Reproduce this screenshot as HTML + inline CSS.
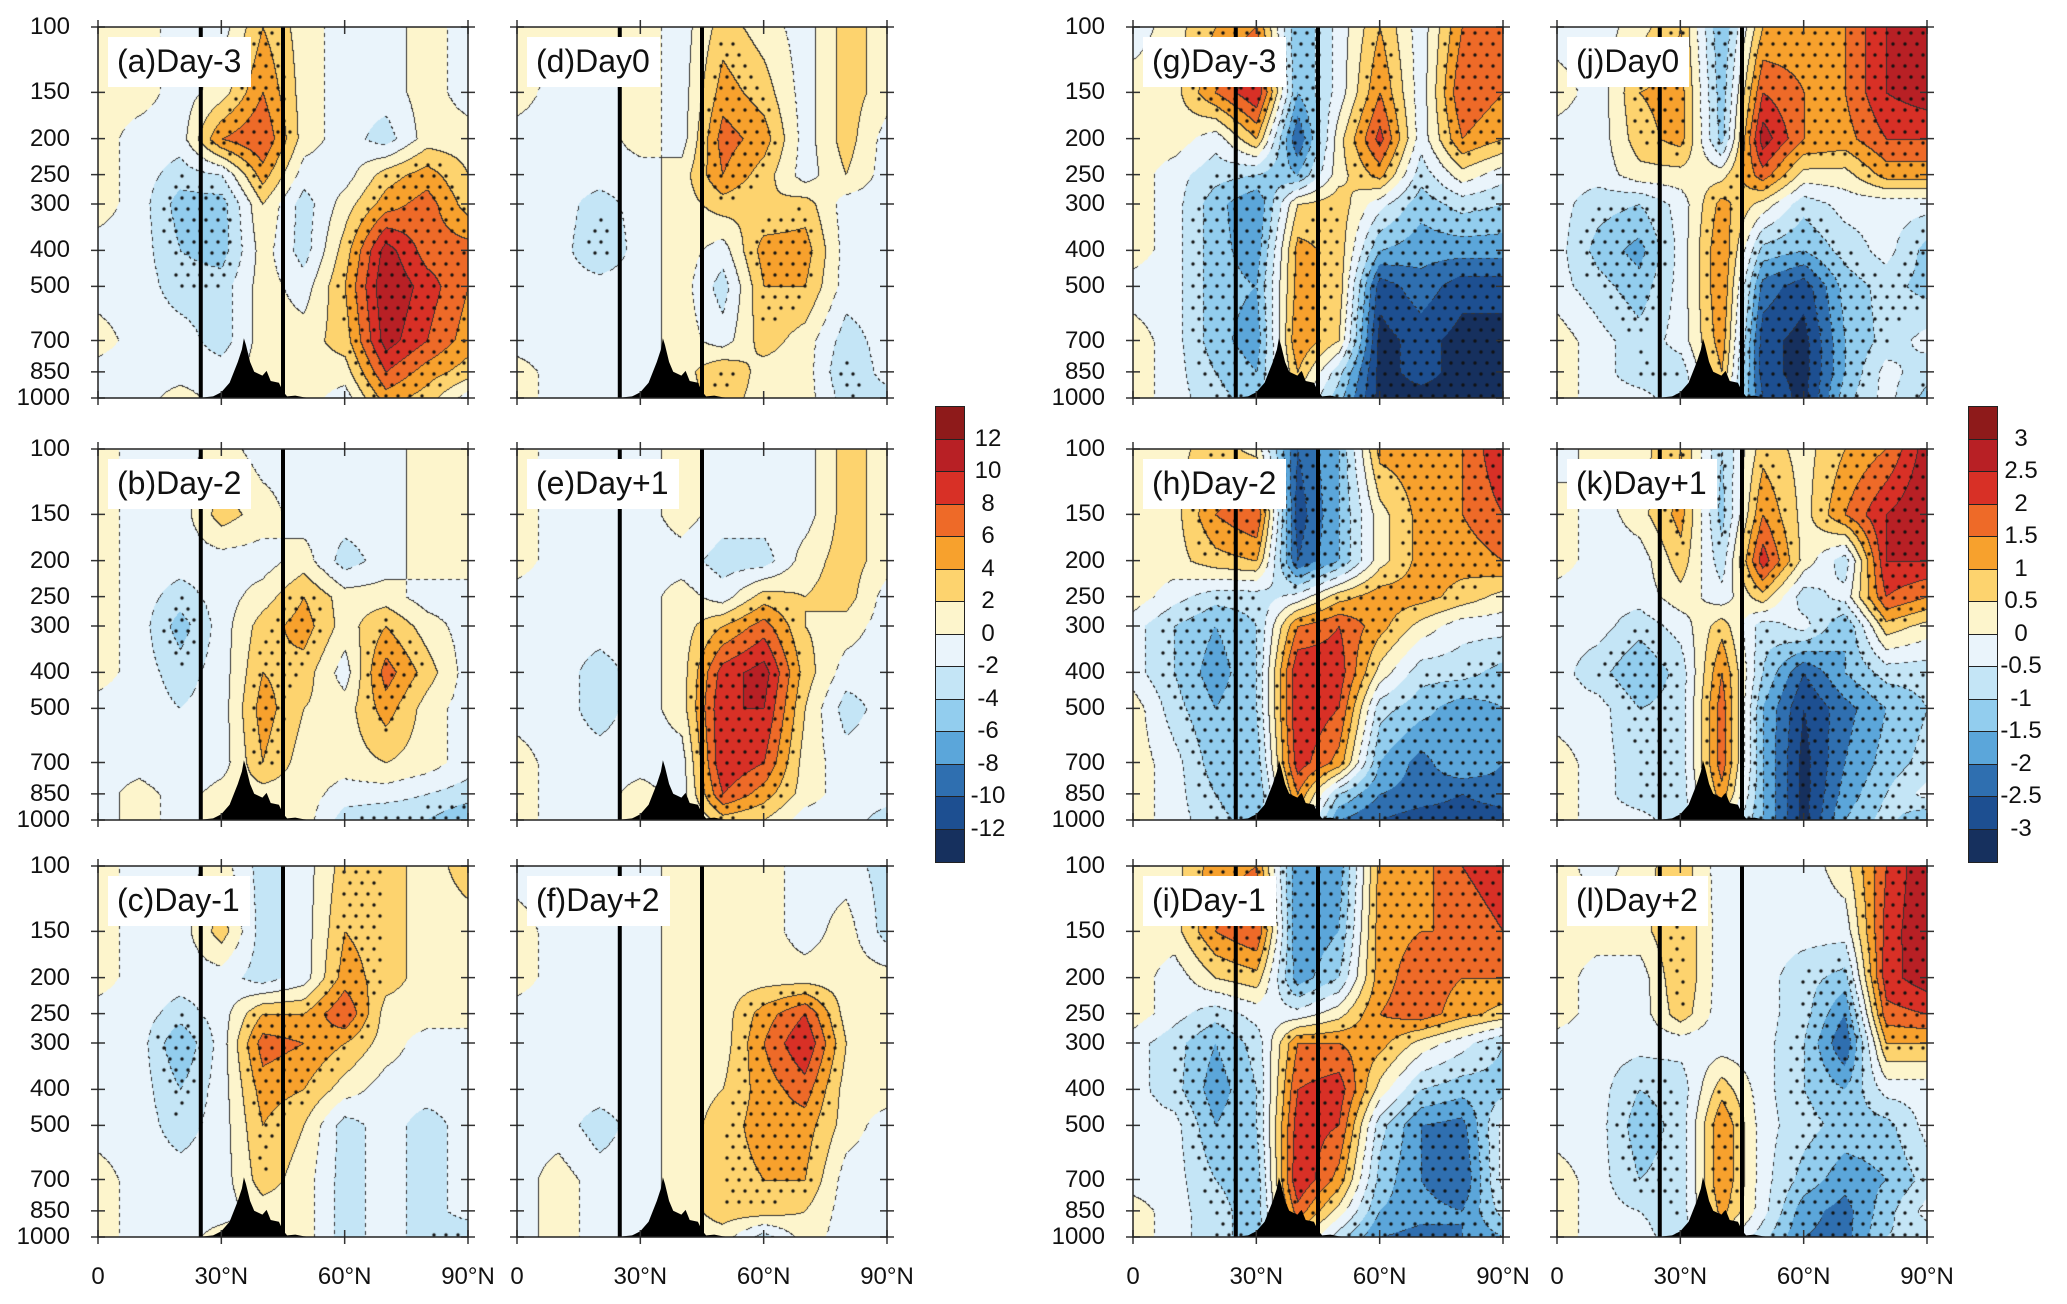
<!DOCTYPE html>
<html><head><meta charset="utf-8">
<style>
body{margin:0;background:#fff;width:2067px;height:1304px;position:relative;overflow:hidden;font-family:"Liberation Sans",Arial,sans-serif;}
.panel{position:absolute;width:370px;height:371px;}
.panel canvas,.panel svg{position:absolute;left:0;top:0;}
.plab{position:absolute;left:10px;top:10px;background:#fff;padding:2px 10px 4px 9px;font-size:32px;line-height:44px;color:#111;}
.yl{position:absolute;font-size:24px;text-align:right;width:60px;line-height:24px;color:#111;}
.xl{position:absolute;font-size:24px;line-height:24px;color:#111;transform:translateX(-50%);white-space:nowrap;}
.cbl{position:absolute;font-size:24px;line-height:24px;transform:translate(-50%,-50%);color:#111;}
</style></head>
<body>
<div id="root"></div>
<script>
const lats=[0,10,20,30,40,50,60,70,80,90];
const levels=[100,150,200,250,300,400,500,700,850,1000];
const yTickLabels=["100","150","200","250","300","400","500","700","850","1000"];
const xTickVals=[0,30,60,90];
const xTickLabels=["0","30°N","60°N","90°N"];
const leftBarLabels=["12","10","8","6","4","2","0","-2","-4","-6","-8","-10","-12"];
const rightBarLabels=["3","2.5","2","1.5","1","0.5","0","-0.5","-1","-1.5","-2","-2.5","-3"];
const topoLat=[24,26,28,30,32,34,35,35.5,36,37,38,40,41,42,44,45,46,48,50,52];
const topoP=[1000,995,990,965,910,800,740,690,720,800,850,870,845,900,910,960,990,985,995,1000];
const panelA=[[1,1,-1,-1,4,1,-1,-1,1,-1],[1,1,-1,1,6,1,-1,-1,1,-1],[1,-1,-1,6,8,1,-1,-3,1,1],[1,-1,-3,-2,5,-1,-1,3,5,2],[1,-1,-5,-5,2,-3,1,5,7,3],[-1,-1,-4,-5,1,-3,3,11,7,7],[-1,-1,-3,-3,1,-1,4,12,9,6],[1,-1,-1,-3,1,1,3,11,8,5],[-1,-1,-1,-1,1,1,1,8,5,3],[-1,-1,1,-1,1,1,-1,5,3,-1]];
const panelB=[[1,-1,-1,1,-1,-1,-1,-1,1,1],[1,-1,-1,3,1,-1,-1,-1,1,1],[1,-1,-1,-1,-1,1,-3,-1,1,1],[1,-1,-3,-1,1,4,1,1,-1,-1],[1,-1,-5,-1,3,5,1,4,1,-1],[1,-1,-3,-1,4,3,-1,7,3,-1],[-1,-1,-2,-1,5,2,1,5,1,-1],[-1,-1,-2,-1,4,1,1,2,1,-1],[-1,1,-1,1,1,1,-1,-1,-2,-3],[-1,1,-1,1,1,1,-3,-4,-4,-6]];
const panelC=[[1,-1,-1,1,-3,-1,3,3,1,3],[1,-1,-1,3,-3,-1,4,3,1,1],[1,-1,-1,-1,-3,-1,5,3,1,1],[-1,-1,-3,-1,4,4,8,1,1,1],[-1,-1,-6,-1,7,6,4,1,-1,-1],[-1,-1,-4,-1,5,4,1,-1,-1,-1],[-1,-1,-3,-1,4,2,-3,-1,-3,-1],[1,-1,-1,-1,3,1,-3,-1,-3,-1],[1,-1,-1,-1,1,1,-3,-1,-3,-1],[1,-1,-1,1,1,1,-3,-1,-3,-4]];
const panelD=[[1,1,1,1,-1,3,1,-1,3,1],[1,-1,-1,1,-1,5,3,-1,3,1],[-1,-1,-1,1,-1,7,5,-1,3,-1],[-1,-1,-1,-1,1,6,3,-1,2,-1],[-1,-1,-3,-1,1,3,2,3,-1,-1],[-1,-1,-4,-1,1,-1,5,5,-1,-1],[-1,-1,-1,-1,1,-3,4,4,-1,-1],[-1,-1,-1,-1,1,-1,3,1,-3,-1],[1,-1,-1,-1,1,4,1,1,-4,-1],[1,-1,-1,-1,1,3,1,1,-3,-3]];
const panelE=[[1,-1,-1,-1,1,-1,-1,-1,3,1],[1,-1,-1,-1,1,-1,-1,-1,3,1],[1,-1,-1,-1,-1,-3,-3,1,3,1],[-1,-1,-1,-1,1,-1,3,2,3,-1],[-1,-1,-1,-1,1,4,7,2,1,-1],[-1,-1,-3,-1,1,9,11,3,-1,-1],[-1,-1,-3,-1,1,10,10,2,-3,-1],[1,-1,-1,-1,-1,10,8,1,-1,-1],[1,-1,-1,1,-1,8,5,1,-1,-1],[1,-1,-1,1,-1,3,2,-1,-1,-3]];
const panelF=[[-1,-1,-1,-1,1,1,1,-1,-1,-3],[1,-1,-1,-1,1,1,1,-1,1,-3],[1,-1,-1,-1,1,1,1,1,1,1],[-1,-1,-1,-1,1,1,5,8,1,1],[-1,-1,-1,-1,1,1,6,10,2,1],[-1,-1,-1,-1,1,2,5,7,1,1],[-1,-1,-3,-1,1,3,5,5,1,-1],[-1,1,-1,-1,1,3,4,4,-1,-1],[-1,1,-1,-1,1,3,3,2,-1,-1],[-1,1,-1,-1,1,1,-3,1,-1,-1]];
const panelG=[[-0.3,0.3,1,1.5,-1.5,-0.3,1,-0.3,1.5,1.5],[0.3,0.3,1.5,2.5,-1.5,-0.3,1.5,-0.3,2,1.5],[0.3,0.3,-0.3,1,-2.5,0.3,2.2,-0.3,1.5,1],[0.3,-0.3,-0.8,-1,-1.5,0.3,1.2,-0.8,0.3,-0.3],[0.3,-0.3,-1.3,-2,0.5,0.8,-0.3,-1.3,-0.8,-1],[0.3,-0.3,-1.3,-1.8,1.2,0.8,-1.5,-1.8,-1.8,-1.8],[-0.3,-0.3,-1.3,-1.5,1.2,0.8,-2.8,-2.2,-2.8,-2.8],[0.3,-0.3,-1.3,-1.8,1.5,0.5,-3.2,-2.8,-3.2,-3.2],[0.3,-0.3,-1,-1.5,1,-0.8,-3.2,-2.8,-3.2,-3.2],[0.3,-0.3,-0.8,-1.3,0.3,-1.3,-3.2,-3.2,-3.2,-3.2]];
const panelH=[[0.3,0.3,0.8,0.3,-2.5,-1.5,1.2,1.3,1.5,2.5],[0.3,0.3,1.5,2,-2.8,-1.5,0.3,1.2,1.5,2],[0.3,0.3,0.8,1,-2.5,-1.5,0.3,1.2,1.2,1.5],[0.3,-0.3,-0.8,-0.8,-0.3,0.8,1.3,1.2,0.8,0.3],[-0.3,-1,-1.5,-1,1.5,2,1.2,0.3,-0.3,-0.3],[-0.3,-1,-1.8,-1,2.5,2.3,0.3,-0.8,-0.8,-1.2],[0.3,-0.8,-1.5,-1,2.5,2,-0.8,-1.3,-1.8,-1.5],[0.3,-0.3,-1.3,-1.3,2.3,1.3,-1.5,-2.2,-1.5,-2],[0.3,-0.3,-1,-1.5,1.5,-1,-2,-2.2,-2.5,-2.2],[0.3,-0.3,-0.8,-1.3,0.8,-2,-2.5,-2.8,-2.8,-2.8]];
const panelI=[[0.3,0.3,1.3,1.5,-2,-1.8,1.2,1.3,2,2.5],[0.3,0.3,1.5,2,-2,-1.5,1.3,1.5,1.5,2],[0.3,-0.3,0.5,0.8,-1.8,-1,1.3,1.8,1.5,1.5],[0.3,-0.3,-0.8,-0.3,-0.3,0.3,1.5,1.8,1.2,0.8],[-0.3,-0.8,-1.5,-0.8,1.5,1.5,1.2,0.3,-0.3,-1],[-0.3,-0.8,-1.8,-1,2,2.3,0.3,-1,-1.3,-1.2],[-0.3,-0.3,-1.5,-1,2.3,2,-0.8,-2,-2.2,-0.3],[-0.3,-0.3,-1,-1.3,2.5,1.3,-1.2,-2,-2.5,-0.3],[0.3,-0.3,-0.8,-1.3,1.8,0.3,-1.5,-1.8,-2,-0.8],[0.3,-0.3,-0.8,-1.3,0.8,-0.8,-2,-2.2,-2,-1.5]];
const panelJ=[[-0.3,-0.3,0.3,1,-1.5,1,1.2,1.5,2.5,3],[0.3,-0.3,1,1.2,-1.3,2,1.5,1.5,2.5,2.8],[-0.3,-0.3,0.8,1.2,-1.2,2.8,1.5,1.3,2,2],[-0.3,-0.3,0.3,0.3,0.3,1.8,0.3,0.3,1.2,1.2],[-0.3,-0.8,-1,-0.3,1.2,0.3,-0.8,-0.3,-0.3,-0.3],[-0.3,-1.2,-1.7,-0.3,1.5,-1.2,-1.5,-0.8,-0.3,-1.2],[-0.3,-0.8,-1.3,-0.3,1.5,-2.2,-2.8,-1.3,-0.8,-1.2],[0.3,-0.3,-0.8,-0.3,1.3,-2.8,-3.2,-1.5,-0.8,-0.3],[0.3,-0.3,-0.8,-0.8,1,-2.8,-3.2,-1.5,-0.3,-0.8],[0.3,-0.3,-0.3,-0.8,0.3,-2.5,-3.2,-1.2,-0.3,-1.2]];
const panelK=[[-0.3,0.3,0.3,1,-1,0.8,0.3,1,1.5,2.8],[0.3,-0.3,0.3,1.2,-1.2,1.5,0.3,1.5,2.5,3],[0.3,-0.3,-0.3,0.8,-0.8,2.3,0.3,-0.8,2.5,2.5],[-0.3,-0.3,-0.3,0.3,-0.3,0.8,-0.8,-0.3,2,1.5],[-0.3,-0.3,-0.8,-0.3,0.8,-0.8,-0.3,-1.5,0.8,0.3],[-0.3,-0.8,-1.5,-0.8,1.5,-1,-2.5,-1.5,-0.8,-0.8],[-0.3,-0.3,-1,-0.8,1.8,-1.5,-3,-2.2,-1.5,-1],[0.3,-0.3,-0.8,-0.8,1.8,-1.5,-3.2,-2,-1.3,-0.8],[0.3,-0.3,-0.8,-0.8,1.3,-1.5,-3.2,-1.8,-1,-0.3],[0.3,-0.3,-0.3,-0.8,0.3,-1.5,-3.2,-1.5,-0.8,-1.5]];
const panelL=[[0.3,-0.3,0.3,0.8,-0.3,-0.3,-0.3,0.3,2,3],[0.3,0.3,0.3,1,-0.3,-0.3,-0.3,-0.3,2.2,3],[0.3,-0.3,-0.3,1,-0.3,-0.3,-0.8,-1.2,2.3,2.8],[0.3,-0.3,-0.3,0.8,-0.3,-0.3,-0.8,-2,1.8,2],[-0.3,-0.3,-0.3,-0.3,-0.3,-0.3,-1,-2.5,1,1],[-0.3,-0.3,-1,-0.8,0.8,-0.3,-1,-1.5,-0.3,-0.3],[-0.3,-0.3,-1.3,-0.8,1.5,-0.3,-0.8,-1.2,-1.2,-0.3],[0.3,-0.3,-1,-0.8,1.5,-0.3,-1.2,-1.8,-1.5,-0.8],[0.3,-0.3,-0.5,-0.8,1.2,-0.3,-1.8,-2.2,-1.2,-0.3],[0.3,-0.3,-0.3,-0.8,0.3,-0.8,-2,-2.2,-1,-0.8]];

const COLORS=["#8e1a1a","#b82025","#d83026","#ee6a28","#f7a12d","#fdd36e","#fdf5cc","#eaf4fb","#c4e5f6","#92cdee","#5ba6da","#2f6fb0","#1d4f91","#16305e"].reverse();
const W=370,H=371;
const colX=[98,517,1133,1557],rowY=[27,449,866];
const panels=[
 {id:"a",lab:"(a)Day-3",d:panelA,c:0,r:0,s:2},{id:"b",lab:"(b)Day-2",d:panelB,c:0,r:1,s:2},{id:"c",lab:"(c)Day-1",d:panelC,c:0,r:2,s:2},
 {id:"d",lab:"(d)Day0",d:panelD,c:1,r:0,s:2},{id:"e",lab:"(e)Day+1",d:panelE,c:1,r:1,s:2},{id:"f",lab:"(f)Day+2",d:panelF,c:1,r:2,s:2},
 {id:"g",lab:"(g)Day-3",d:panelG,c:2,r:0,s:0.5},{id:"h",lab:"(h)Day-2",d:panelH,c:2,r:1,s:0.5},{id:"i",lab:"(i)Day-1",d:panelI,c:2,r:2,s:0.5},
 {id:"j",lab:"(j)Day0",d:panelJ,c:3,r:0,s:0.5},{id:"k",lab:"(k)Day+1",d:panelK,c:3,r:1,s:0.5},{id:"l",lab:"(l)Day+2",d:panelL,c:3,r:2,s:0.5}];
const LP0=Math.log(100),LP1=Math.log(1000);
function xOf(lat){return lat/90*W;}
function yOf(p){return (Math.log(p)-LP0)/(LP1-LP0)*H;}
const levY=levels.map(yOf);
function sample(d,x,y){
  let fx=x/W*(lats.length-1);let i=Math.min(Math.floor(fx),lats.length-2);let tx=fx-i;
  let j=0;while(j<levels.length-2&&y>levY[j+1])j++;
  let ty=(y-levY[j])/(levY[j+1]-levY[j]);ty=Math.max(0,Math.min(1,ty));
  return (d[j][i]*(1-tx)+d[j][i+1]*tx)*(1-ty)+(d[j+1][i]*(1-tx)+d[j+1][i+1]*tx)*ty;
}
function hex(c){return [parseInt(c.slice(1,3),16),parseInt(c.slice(3,5),16),parseInt(c.slice(5,7),16)];}
const RGB=COLORS.map(hex);
const root=document.getElementById('root');
const NS="http://www.w3.org/2000/svg";
panels.forEach(P=>{
  const div=document.createElement('div');div.className='panel';
  
  
  div.style.left=colX[P.c]+'px';div.style.top=rowY[P.r]+'px';
  const cv=document.createElement('canvas');cv.width=W;cv.height=H;
  
  
  const ctx=cv.getContext('2d');const img=ctx.createImageData(W,H);
  const bins=new Int8Array(W*H);const vals=new Float32Array(W*H);
  for(let y=0;y<H;y++)for(let x=0;x<W;x++){const v=sample(P.d,x+0.5,y+0.5);vals[y*W+x]=v;
    let b=Math.floor(v/P.s)+7;b=Math.max(0,Math.min(13,b));bins[y*W+x]=b;}
  for(let y=0;y<H;y++)for(let x=0;x<W;x++){const k=y*W+x;let c=RGB[bins[k]];
    const edge=(x>0&&bins[k-1]!==bins[k])||(y>0&&bins[k-W]!==bins[k]);
    if(edge){const neg=vals[k]<0;if(!neg||((x+y)>>2)%2===0)c=[50,50,50];}
    img.data[k*4]=c[0];img.data[k*4+1]=c[1];img.data[k*4+2]=c[2];img.data[k*4+3]=255;}
  ctx.putImageData(img,0,0);
  ctx.fillStyle='#111';const thr=P.s*1.5;
  for(let y=6,row=0;y<H;y+=11,row++)for(let x=6+(row%2)*6;x<W;x+=12){
    if(Math.abs(sample(P.d,x,y))>=thr){ctx.beginPath();ctx.arc(x,y,1.7,0,6.3);ctx.fill();}}
  div.appendChild(cv);
  const svg=document.createElementNS(NS,'svg');svg.setAttribute('width',W);svg.setAttribute('height',H);svg.style.overflow='visible';
  let pts=topoLat.map((l,i)=>xOf(l).toFixed(1)+','+yOf(topoP[i]).toFixed(1)).join(' ');
  const topo=document.createElementNS(NS,'polygon');topo.setAttribute('points',pts+' '+xOf(52)+','+H+' '+xOf(24)+','+H);topo.setAttribute('fill','#000');
  
  
  svg.appendChild(topo);
  [25,45].forEach(l=>{const ln=document.createElementNS(NS,'line');ln.setAttribute('x1',xOf(l));ln.setAttribute('x2',xOf(l));ln.setAttribute('y1',0);ln.setAttribute('y2',H);ln.setAttribute('stroke','#000');ln.setAttribute('stroke-width','4');
    
    
    svg.appendChild(ln);});
  let tk='';
  xTickVals.forEach(v=>{const x=xOf(v);tk+=`M${x},-7V7M${x},${H-7}V${H+7}`;});
  levels.forEach(p=>{const y=yOf(p);tk+=`M-7,${y}H7M${W-7},${y}H${W+7}`;});
  const tp=document.createElementNS(NS,'path');tp.setAttribute('d',tk);tp.setAttribute('stroke','#333');tp.setAttribute('stroke-width','1.5');svg.appendChild(tp);
  const fr=document.createElementNS(NS,'rect');fr.setAttribute('x',0);fr.setAttribute('y',0);fr.setAttribute('width',W);fr.setAttribute('height',H);fr.setAttribute('fill','none');fr.setAttribute('stroke','#222');fr.setAttribute('stroke-width','1.5');
  
  
  svg.appendChild(fr);
  div.appendChild(svg);
  const lb=document.createElement('div');lb.className='plab';lb.textContent=P.lab;
  
  
  div.appendChild(lb);
  root.appendChild(div);
  if(P.c===0||P.c===2){levels.forEach((p,i)=>{const t=document.createElement('div');t.className='yl';t.textContent=yTickLabels[i];
    
    
    t.style.left=(colX[P.c]-88)+'px';t.style.top=(rowY[P.r]+yOf(p)-12)+'px';root.appendChild(t);});}
  if(P.r===2){xTickVals.forEach((v,i)=>{const t=document.createElement('div');t.className='xl';t.textContent=xTickLabels[i];
    
    
    t.style.left=(colX[P.c]+xOf(v))+'px';t.style.top='1265px';root.appendChild(t);});}
});
function colorbar(x,labels,name){
  const cb=document.createElement('div');cb.style.cssText=`position:absolute;left:${x}px;top:406px;width:28px;height:455px;border:1.5px solid #222;`;
  
  
  const hh=455/14;
  for(let i=0;i<14;i++){const b=document.createElement('div');b.style.cssText=`position:absolute;left:0;width:28px;top:${i*hh}px;height:${hh}px;background:${COLORS[13-i]};box-sizing:border-box;border-bottom:${i<13?'1.5px solid #222':'none'};`;
    
    
    cb.appendChild(b);}
  root.appendChild(cb);
  labels.forEach((t,i)=>{const l=document.createElement('div');l.className='cbl';l.textContent=t;
    
    
    l.style.left=(x+53)+'px';l.style.top=(406+(i+1)*hh)+'px';root.appendChild(l);});
}
colorbar(935,leftBarLabels,'colorbar-left');
colorbar(1968,rightBarLabels,'colorbar-right');
</script>
</body></html>
